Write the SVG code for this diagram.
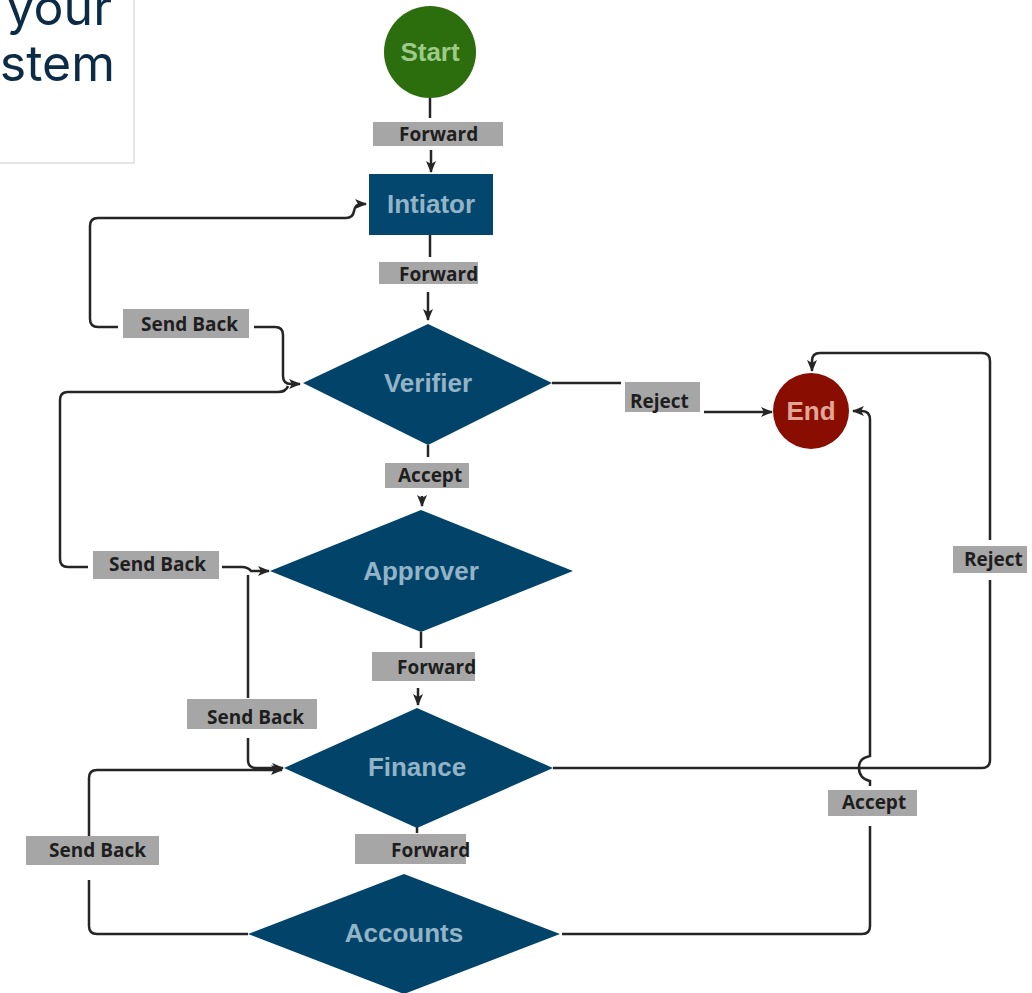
<svg xmlns="http://www.w3.org/2000/svg" width="1032" height="993" viewBox="0 0 1032 993">
<style>
.lbl{fill:#a6a6a6}
.lt{font-family:"Open Sans","DejaVu Sans",sans-serif;font-weight:700;font-size:19px;fill:#1e1e1e}
.nt{font-family:"Liberation Sans",Arial,sans-serif;font-weight:700;font-size:26px;text-anchor:middle}
.dia{fill:#02436a}
.dt{fill:#93b3c6}
.c{fill:none;stroke:#252525;stroke-width:2.5}
.ca{fill:none;stroke:#252525;stroke-width:2.5;marker-end:url(#ah)}
</style>
<defs>
<marker id="ah" markerUnits="userSpaceOnUse" markerWidth="12" markerHeight="10" refX="11" refY="5" orient="auto">
<path d="M0,0 L12,5 L0,10 L3,5 z" fill="#252525"/>
</marker>
</defs>
<rect width="1032" height="993" fill="#ffffff"/>
<g id="title">
<rect x="-10" y="-10" width="144" height="173" fill="#ffffff" stroke="#dcdcdc" stroke-width="1.5"/>
<text x="112" y="25" text-anchor="end" font-family="Inter,'Noto Sans',sans-serif" font-size="50" fill="#0b2b47">your</text>
<text x="115" y="81" text-anchor="end" font-family="Inter,'Noto Sans',sans-serif" font-size="50" fill="#0b2b47">stem</text>
</g>
<g id="connectors">
<!-- Start -> Intiator -->
<path class="c" d="M430,98 V118"/>
<path class="ca" d="M431,150 V172"/>
<!-- Intiator -> Verifier -->
<path class="c" d="M430,235 V257"/>
<path class="ca" d="M428,292 V320"/>
<!-- Verifier Send Back -> Intiator -->
<path class="ca" d="M118,327 H98 Q90,327 90,319 V226 Q90,218 98,218 H346 Q353,218 354,211 Q355,204 362,204 H366"/>
<path class="ca" d="M254,327 H275 Q283,327 283,335 V376 Q283,384 291,384 H300"/>
<!-- Approver Send Back -> Verifier -->
<path class="c" d="M88,567 H68 Q60,567 60,559 V400 Q60,392 68,392 H278 Q286,392 288,386"/>
<path class="ca" d="M222,567 H242 Q248,567 251,571 H269"/>
<!-- Finance Send Back -> Approver -->
<path class="c" d="M248,575 V698"/>
<path class="ca" d="M248,738 V760 Q248,768 256,768 H283"/>
<!-- Accounts Send Back -> Finance -->
<path class="ca" d="M89,836 V778 Q89,770 97,770 H282"/>
<path class="c" d="M248,934 H97 Q89,934 89,926 V880"/>
<!-- Verifier Reject -> End -->
<path class="c" d="M552,383 H621"/>
<path class="ca" d="M704,412 H772"/>
<!-- Verifier Accept -> Approver -->
<path class="c" d="M428,445 V457"/>
<path class="ca" d="M422,496 V506"/>
<!-- Approver Forward -> Finance -->
<path class="c" d="M421,632 V648"/>
<path class="ca" d="M418,688 V705"/>
<!-- Finance Forward -> Accounts -->
<path class="c" d="M417,826 V833"/>
<!-- Finance Reject -> End -->
<path class="c" d="M553,768 H982 Q990,768 990,760 V580"/>
<path class="ca" d="M990,540 V361 Q990,353 982,353 H820 Q812,353 812,361 V371"/>
<!-- Accounts Accept -> End -->
<path class="c" d="M562,934 H862 Q870,934 870,926 V826"/>
<path class="ca" d="M870,786 V781 C861,779 859,774 859,768 C859,762 861,758 870,756 V420 Q870,411 862,411 H853"/>
</g>
<g id="labels">
<rect class="lbl" x="373" y="122" width="130" height="24"/><text class="lt" x="399" y="141">Forward</text>
<rect class="lbl" x="379" y="262" width="99" height="22"/><text class="lt" x="399" y="281">Forward</text>
<rect class="lbl" x="123" y="309" width="126" height="29"/><text class="lt" x="141" y="331">Send Back</text>
<rect class="lbl" x="625" y="382" width="75" height="30"/><text class="lt" x="630" y="408">Reject</text>
<rect class="lbl" x="385" y="463" width="84" height="25"/><text class="lt" x="398" y="482">Accept</text>
<rect class="lbl" x="93" y="551" width="126" height="28"/><text class="lt" x="109" y="571">Send Back</text>
<rect class="lbl" x="372" y="652" width="103" height="29"/><text class="lt" x="397" y="674">Forward</text>
<rect class="lbl" x="187" y="699" width="130" height="30"/><text class="lt" x="207" y="724">Send Back</text>
<rect class="lbl" x="953" y="546" width="74" height="27"/><text class="lt" x="964" y="566">Reject</text>
<rect class="lbl" x="828" y="790" width="89" height="26"/><text class="lt" x="842" y="809">Accept</text>
<rect class="lbl" x="26" y="836" width="133" height="29"/><text class="lt" x="49" y="857">Send Back</text>
<rect class="lbl" x="355" y="834" width="111" height="30"/><text class="lt" x="391" y="857">Forward</text>
</g>
<g id="start">
<circle cx="430" cy="52" r="46" fill="#2c6d0d"/>
<text class="nt" x="430" y="61" fill="#9ccb88">Start</text>
</g>
<g id="intiator">
<rect x="369" y="174" width="124" height="61" fill="#03476e"/>
<text class="nt dt" x="431" y="213">Intiator</text>
</g>
<g id="verifier">
<polygon class="dia" points="303,383 428,324 552,383 428,445"/>
<text class="nt dt" x="428" y="392">Verifier</text>
</g>
<g id="end">
<circle cx="811" cy="411" r="38" fill="#8a0d02"/>
<text class="nt" x="811" y="420" fill="#e2a596">End</text>
</g>
<g id="approver">
<polygon class="dia" points="270,571 421,510 573,571 421,632"/>
<text class="nt dt" x="421" y="580">Approver</text>
</g>
<g id="finance">
<polygon class="dia" points="284,768 417,708 553,768 417,828"/>
<text class="nt dt" x="417" y="776">Finance</text>
</g>
<g id="accounts">
<polygon class="dia" points="248,934 404,874 560,934 404,994"/>
<text class="nt dt" x="404" y="942">Accounts</text>
</g>
</svg>
